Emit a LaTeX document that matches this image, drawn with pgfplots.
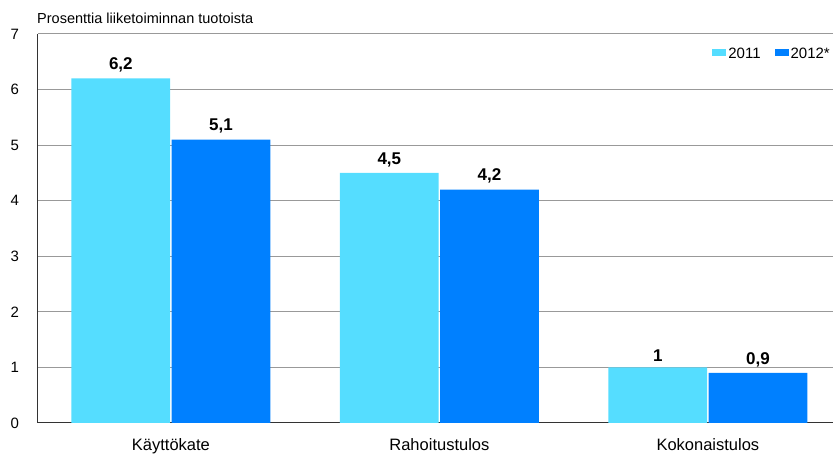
\documentclass[border=0pt]{standalone}
\usepackage{fontspec}
\setmainfont{Liberation Sans}
\usepackage{pgfplots}
\pgfplotsset{compat=1.18}
\definecolor{c2011}{RGB}{85,221,255}
\definecolor{c2012}{RGB}{0,128,255}
\begin{document}
\fontsize{14.5}{17}\selectfont
\begin{tikzpicture}
\begin{axis}[
  scale only axis, width=795pt, height=389pt,
  xmin=-0.495, xmax=2.466, ymin=0, ymax=7,
  ytick={0,1,...,7}, xtick={0,1,2},
  xticklabels={Käyttökate,Rahoitustulos,Kokonaistulos},
  major tick length=0pt,
  ymajorgrids, grid style={draw=black!40, line width=1pt},
  axis x line*=bottom, axis y line*=left,
  axis line style={draw=black!80, line width=1pt},
  /pgf/number format/assume math mode=true,
  /pgf/number format/use comma,
  yticklabel style={font=\fontsize{15}{17}\selectfont, xshift=-14pt},
  xticklabel style={font=\fontsize{16.5}{19}\selectfont, yshift=-11pt},
  ybar, bar width=0.368,
  nodes near coords,
  every node near coord/.append style={font=\fontsize{17}{19}\selectfont\bfseries, yshift=1pt},
  legend style={draw=none, fill=none, at={(1,1)}, anchor=north east, xshift=2pt, yshift=-10pt,
    legend columns=2, font=\fontsize{15}{17}\selectfont,
    /tikz/every even column/.append style={column sep=12pt},
    /tikz/every odd column/.append style={column sep=0pt}},
  legend cell align=left,
  legend image code/.code={\fill[#1,draw=none] (0pt,-1pt) rectangle (14pt,6pt);},
]
\addplot[fill=c2011, draw=none, bar shift=-0.1865] coordinates {(0,6.2) (1,4.5) (2,1)};
\addplot[fill=c2012, draw=none, bar shift=0.1865] coordinates {(0,5.1) (1,4.2) (2,0.9)};
\legend{2011,2012*}
\end{axis}
\node[anchor=base west, inner sep=0pt] at ([shift={(-1pt,10pt)}]current axis.north west) {Prosenttia liiketoiminnan tuotoista};
\pgfresetboundingbox
\path ([shift={(-38pt,-32pt)}]current axis.south west) rectangle ([shift={(0pt,34pt)}]current axis.north east);
\end{tikzpicture}
\end{document}
